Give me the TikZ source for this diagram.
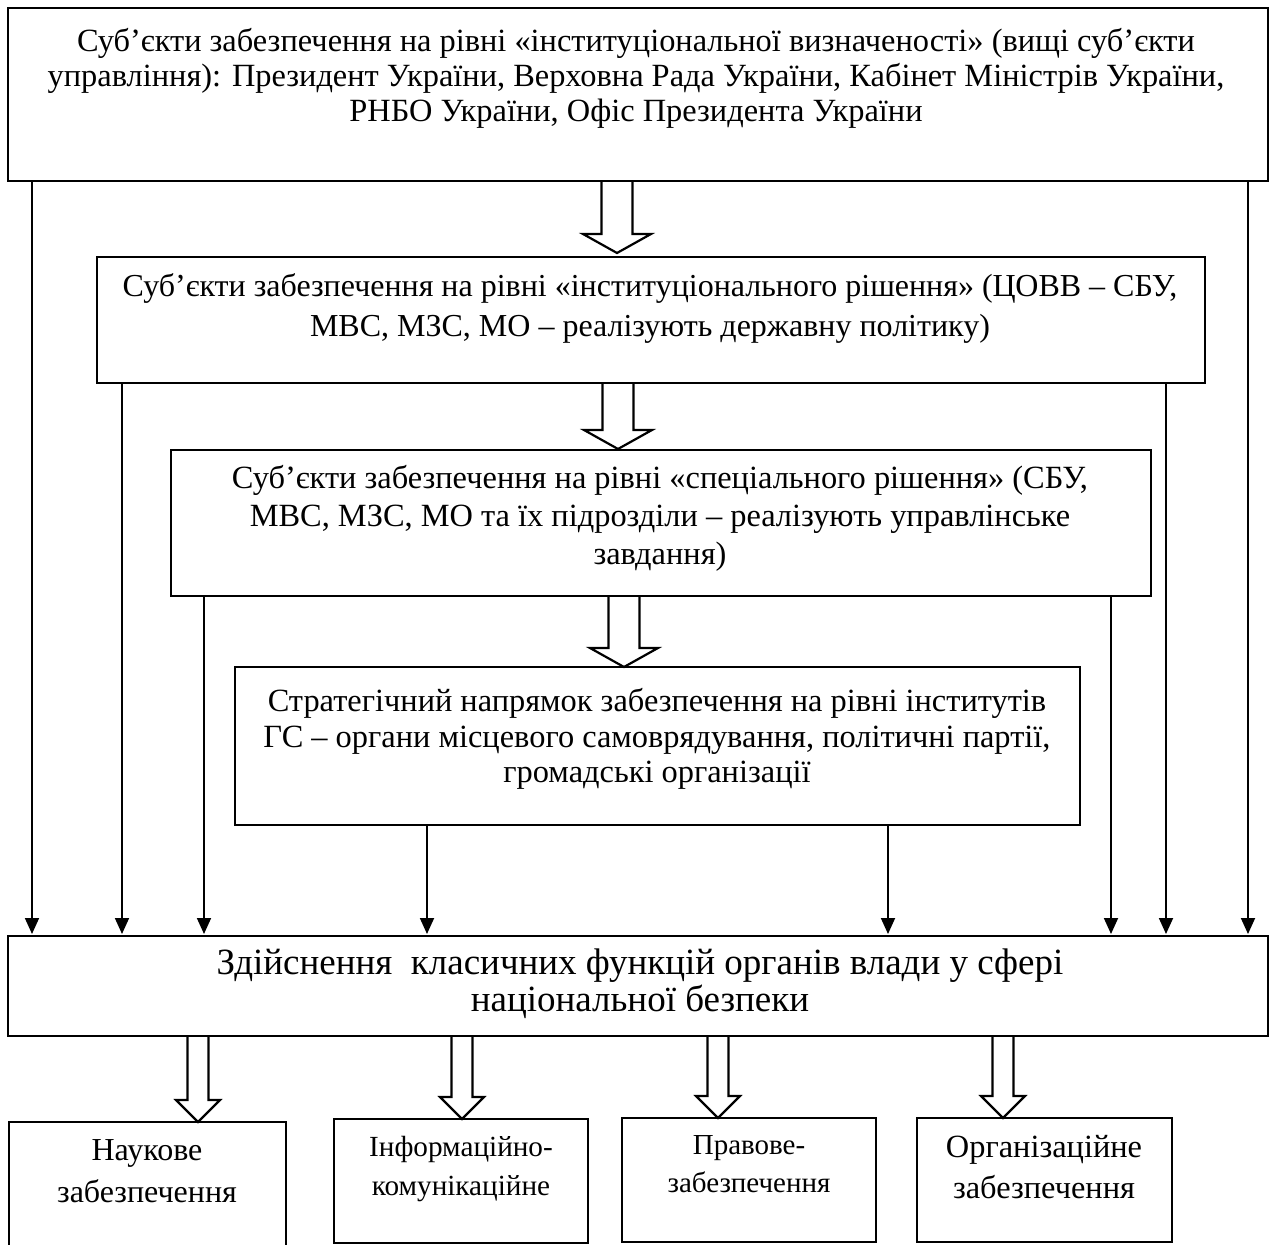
\documentclass[tikz,border=0pt]{standalone}
\usepackage{fontspec}
\setmainfont{Liberation Serif}
\usetikzlibrary{arrows.meta,calc}
\newcommand\fatarrow[5]{%
 \draw[fat] let \p1=#1, \p2=#2 in
  (\x1-#3,\y1) -- (\x1-#3,\y2+#5) -- (\x1-#4,\y2+#5) -- (\x1,\y2) -- (\x1+#4,\y2+#5) -- (\x1+#3,\y2+#5) -- (\x1+#3,\y1);}
\begin{document}
\begin{tikzpicture}[x=0.5pt,y=-0.5pt,
  box/.style={draw, line width=1.2pt, inner sep=0pt, outer sep=0pt, anchor=north west},
  txt/.style={anchor=north, inner sep=0pt, align=center},
  fat/.style={draw, line width=1.1pt, line join=miter},
  thinarr/.style={line width=0.9pt, shorten >=1pt, -{Triangle[length=8pt,width=7pt]}}]
\useasboundingbox (0,0) rectangle (1275,1245);
\fill[white] (0,0) rectangle (1275,1245);
% boxes
\node[box, minimum width=630pt, minimum height=86.5pt] (b1) at (8,8) {};
\node[box, minimum width=554pt, minimum height=63pt] (b2) at (97,257) {};
\node[box, minimum width=490pt, minimum height=73pt] (b3) at (171,450) {};
\node[box, minimum width=422.5pt, minimum height=79pt] (b4) at (235,667) {};
\node[box, minimum width=630pt, minimum height=50pt] (b5) at (8,936) {};
\node[box, minimum width=138.5pt, minimum height=74pt] (c1) at (9,1122) {};
\node[box, minimum width=127pt, minimum height=62pt] (c2) at (334,1119) {};
\node[box, minimum width=127pt, minimum height=62pt] (c3) at (622,1118) {};
\node[box, minimum width=127.5pt, minimum height=62pt] (c4) at (917,1118) {};
% texts
\node[txt, font=\fontsize{16.2}{17.5}\selectfont] (t1) at (636,28) {Суб’єкти забезпечення на рівні «інституціональної визначеності» (вищі суб’єкти\\управління): Президент України, Верховна Рада України, Кабінет Міністрів України,\\РНБО України, Офіс Президента України};
\node[txt, font=\fontsize{16}{20}\selectfont] (t2) at (650,273) {Суб’єкти забезпечення на рівні «інституціонального рішення» (ЦОВВ – СБУ,\\МВС, МЗС, МО – реалізують державну політику)};
\node[txt, font=\fontsize{16.2}{19}\selectfont] (t3) at (660,465) {Суб’єкти забезпечення на рівні «спеціального рішення» (СБУ,\\МВС, МЗС, МО та їх підрозділи – реалізують управлінське\\завдання)};
\node[txt, font=\fontsize{16.2}{17.75}\selectfont] (t4) at (657,688) {Стратегічний напрямок забезпечення на рівні інститутів\\ГС – органи місцевого самоврядування, політичні партії,\\громадські організації};
\node[txt, font=\fontsize{18.5}{18.5}\selectfont] (t5) at (640,948) {Здійснення~ класичних функцій органів влади у сфері\\національної безпеки};
\node[txt, font=\fontsize{16}{21}\selectfont] (u1) at (147,1139) {Наукове\\забезпечення};
\node[txt, font=\fontsize{14.6}{19.5}\selectfont] (u2) at (461,1136) {Інформаційно-\\комунікаційне};
\node[txt, font=\fontsize{14.5}{19}\selectfont] (u3) at (749,1135) {Правове-\\забезпечення};
\node[txt, font=\fontsize{16.2}{20.5}\selectfont] (u4) at (1044,1135) {Організаційне\\забезпечення};
% hollow arrows
\fatarrow{($(b1.south west)+(609,0)$)}{($(b2.north west)+(520,-4)$)}{7.75pt}{17pt}{9.5pt}
\fatarrow{($(b2.south west)+(521,0)$)}{($(b3.north west)+(447,-1)$)}{7.75pt}{17pt}{9.5pt}
\fatarrow{($(b3.south west)+(453,0)$)}{($(b4.north west)+(389,0)$)}{7.75pt}{17pt}{9.5pt}
\fatarrow{($(b5.south west)+(190,0)$)}{($(c1.north west)+(189,0)$)}{5.25pt}{11pt}{11pt}
\fatarrow{($(b5.south west)+(454,0)$)}{($(c2.north west)+(128,0)$)}{5.25pt}{11pt}{11pt}
\fatarrow{($(b5.south west)+(710,0)$)}{($(c3.north west)+(96,0)$)}{5.25pt}{11pt}{11pt}
\fatarrow{($(b5.south west)+(995,0)$)}{($(c4.north west)+(86,0)$)}{5.25pt}{11pt}{11pt}
% thin arrows
\draw[thinarr] ($(b1.south west)+(24,0)$) -- ($(b5.north west)+(24,0)$);
\draw[thinarr] ($(b1.south west)+(1240,0)$) -- ($(b5.north west)+(1240,0)$);
\draw[thinarr] ($(b2.south west)+(25,0)$) -- ($(b5.north west)+(114,0)$);
\draw[thinarr] ($(b2.south west)+(1069,0)$) -- ($(b5.north west)+(1158,0)$);
\draw[thinarr] ($(b3.south west)+(33,0)$) -- ($(b5.north west)+(196,0)$);
\draw[thinarr] ($(b3.south west)+(940,0)$) -- ($(b5.north west)+(1103,0)$);
\draw[thinarr] ($(b4.south west)+(192,0)$) -- ($(b5.north west)+(419,0)$);
\draw[thinarr] ($(b4.south west)+(653,0)$) -- ($(b5.north west)+(880,0)$);
\end{tikzpicture}
\end{document}
